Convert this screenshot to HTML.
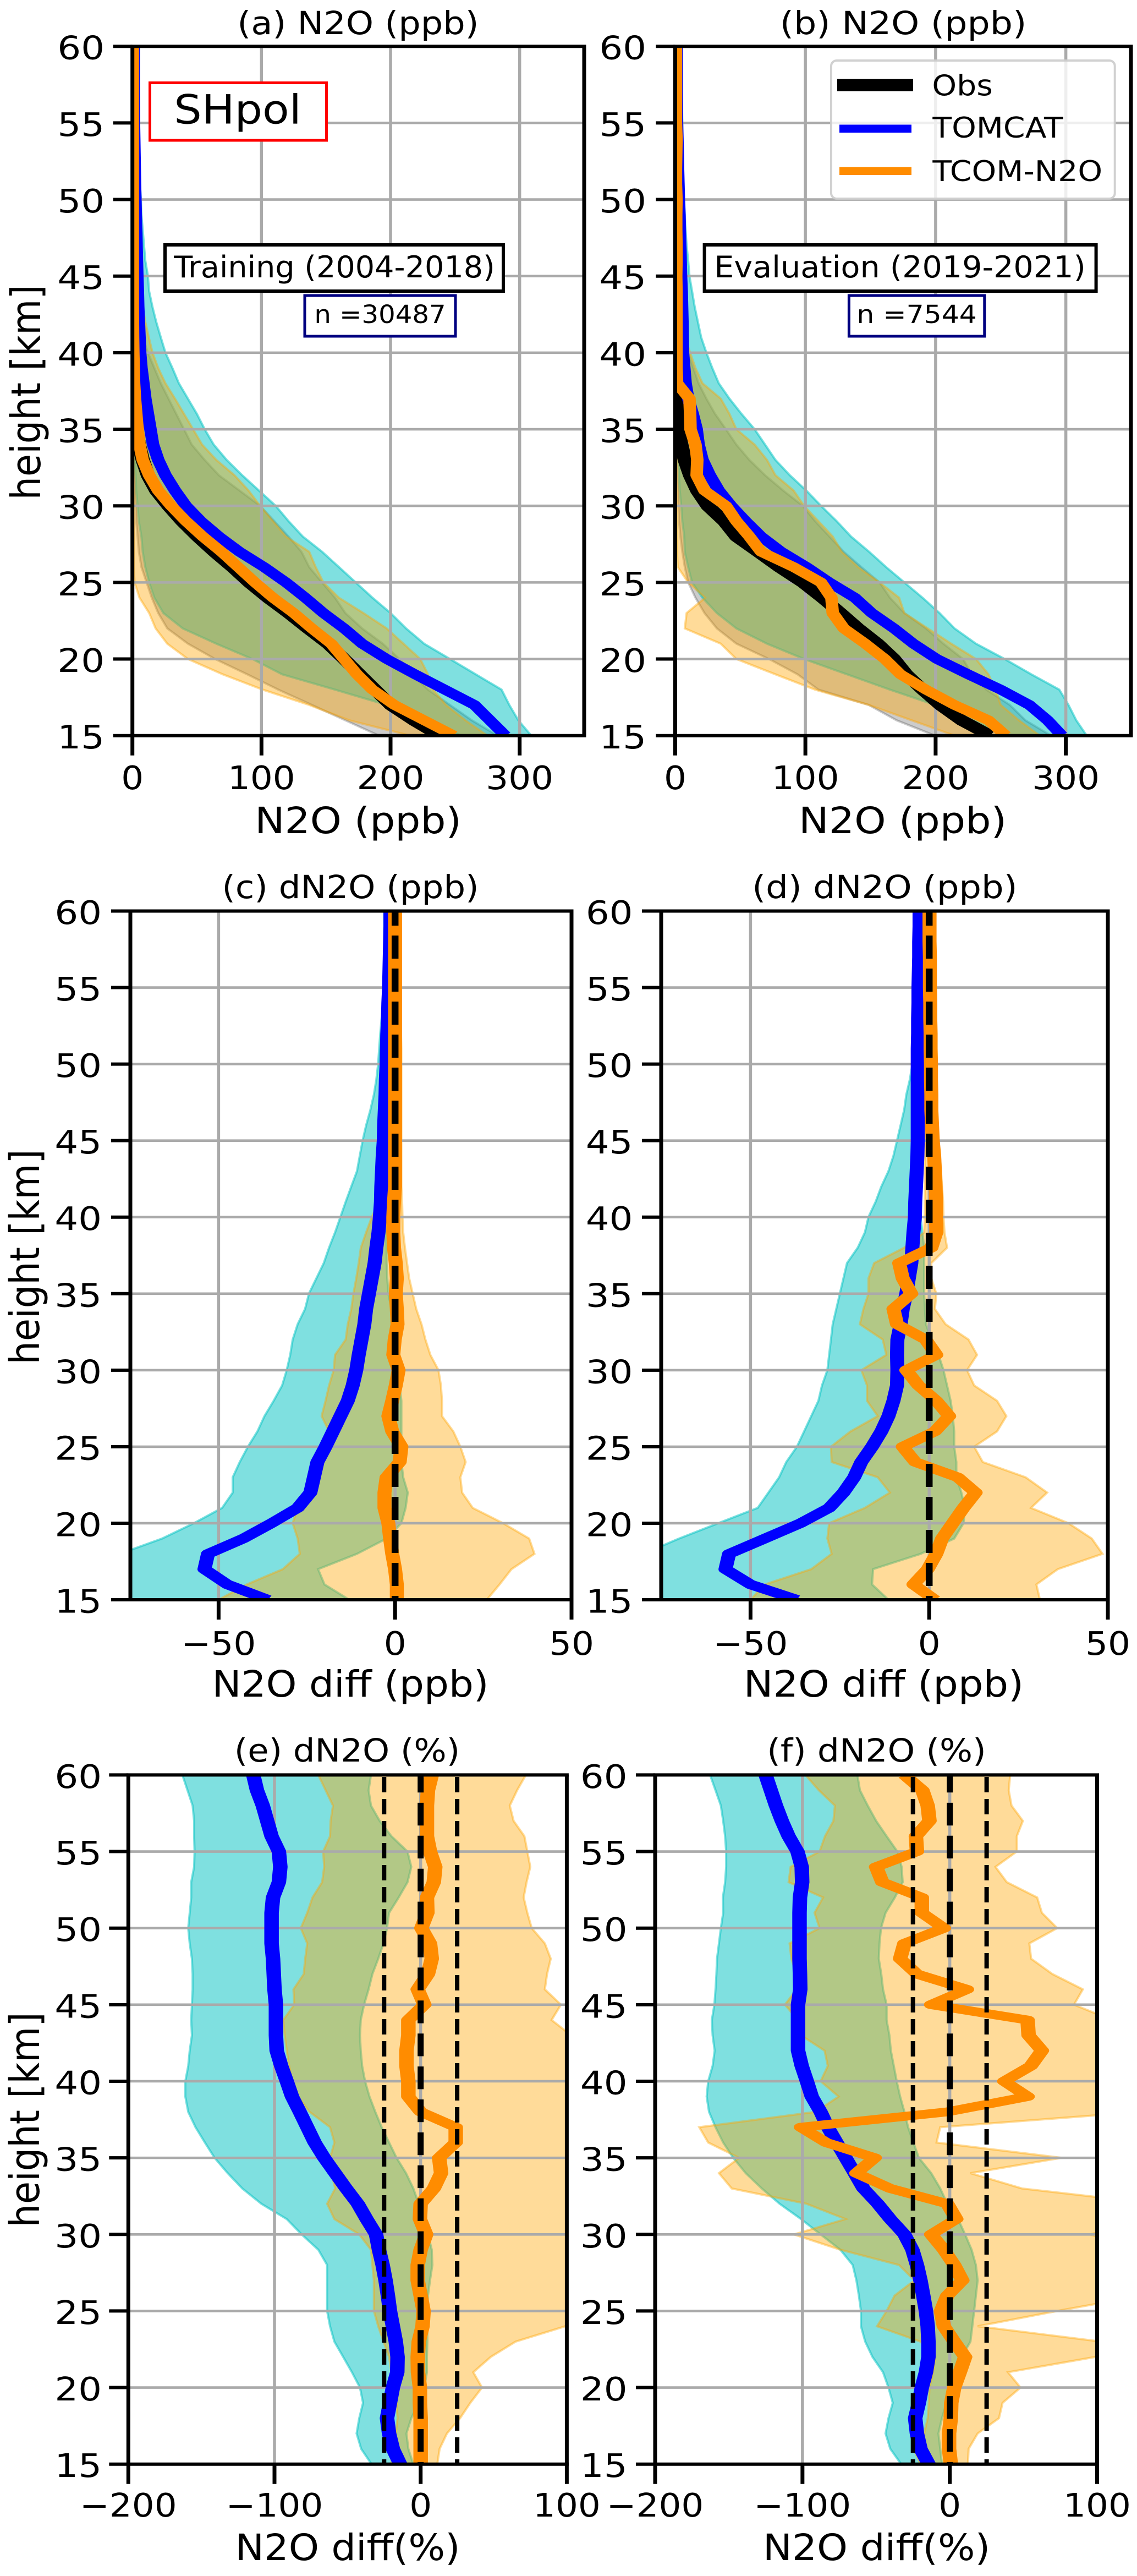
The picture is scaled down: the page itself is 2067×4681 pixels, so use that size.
<!DOCTYPE html>
<html lang="en">
<head>
<meta charset="utf-8">
<title>SHpol N2O profiles</title>
<style>
html,body{margin:0;padding:0;background:#fff;}
svg{display:block;}
text{font-family:"DejaVu Sans","Liberation Sans",sans-serif;fill:#000;}
</style>
</head>
<body>
<svg id="fig" xmlns="http://www.w3.org/2000/svg" width="2067" height="4681" viewBox="0 0 2067 4681">
<rect x="0" y="0" width="2067" height="4681" fill="#fff"/>
<g id="plots"></g>

<text font-size="58" text-anchor="middle" transform="translate(651,62) scale(1.1,1)">(a) N2O (ppb)</text>
<text font-size="58" text-anchor="middle" transform="translate(1642,62) scale(1.12,1)">(b) N2O (ppb)</text>
<text font-size="58" text-anchor="middle" transform="translate(637,1632) scale(1.08,1)">(c) dN2O (ppb)</text>
<text font-size="58" text-anchor="middle" transform="translate(1608.4,1632) scale(1.103,1)">(d) dN2O (ppb)</text>
<text font-size="58" text-anchor="middle" transform="translate(631,3201) scale(1.077,1)">(e) dN2O (%)</text>
<text font-size="58" text-anchor="middle" transform="translate(1593.5,3201) scale(1.09,1)">(f) dN2O (%)</text>

<text font-size="66" text-anchor="middle" transform="translate(651,1514) scale(1.1,1)">N2O (ppb)</text>
<text font-size="66" text-anchor="middle" transform="translate(1641,1514) scale(1.107,1)">N2O (ppb)</text>
<text font-size="66" text-anchor="middle" transform="translate(637,3083) scale(1.075,1)">N2O diff (ppb)</text>
<text font-size="66" text-anchor="middle" transform="translate(1606.4,3083) scale(1.088,1)">N2O diff (ppb)</text>
<text font-size="66" text-anchor="middle" transform="translate(632,4652) scale(1.065,1)">N2O diff(%)</text>
<text font-size="66" text-anchor="middle" transform="translate(1593.5,4652) scale(1.076,1)">N2O diff(%)</text>

<text font-size="67" text-anchor="middle" transform="translate(73,713) scale(1.1,1) rotate(-90)">height [km]</text>
<text font-size="67" text-anchor="middle" transform="translate(71,2284) scale(1.1,1) rotate(-90)">height [km]</text>
<text font-size="67" text-anchor="middle" transform="translate(71,3852) scale(1.1,1) rotate(-90)">height [km]</text>

<g>
<rect x="272.5" y="150.5" width="321" height="104.5" fill="#fff" stroke="#ff0000" stroke-width="5"/>
<text font-size="73" text-anchor="middle" transform="translate(432,224.5) scale(1.09,1)">SHpol</text>
</g>
<g>
<rect x="300" y="445" width="615" height="84" fill="#fff" stroke="#000" stroke-width="6"/>
<text font-size="54" text-anchor="middle" transform="translate(608,504) scale(1.03,1)">Training (2004-2018)</text>
</g>
<g>
<rect x="554" y="537" width="274" height="74" fill="#fff" stroke="#000080" stroke-width="5"/>
<text font-size="45" text-anchor="middle" transform="translate(691,587) scale(1.07,1)">n =30487</text>
</g>
<g>
<rect x="1280.6" y="445" width="712" height="84" fill="#fff" stroke="#000" stroke-width="6"/>
<text font-size="54" text-anchor="middle" transform="translate(1636,504) scale(1.058,1)">Evaluation (2019-2021)</text>
</g>
<g>
<rect x="1543.4" y="537" width="246.4" height="74" fill="#fff" stroke="#000080" stroke-width="5"/>
<text font-size="45" text-anchor="middle" transform="translate(1666.6,587) scale(1.12,1)">n =7544</text>
</g>

<g>
<rect x="1511" y="110" width="515.7" height="251" rx="10" ry="10" fill="#fff" fill-opacity="0.8" stroke="#cccccc" stroke-opacity="0.9" stroke-width="4"/>
<rect x="1522" y="143.6" width="138" height="22" fill="#000"/>
<rect x="1526" y="226.5" width="131" height="14.5" fill="#0000ff"/>
<rect x="1526" y="303.5" width="131" height="14.5" fill="#ff8c00"/>
<text font-size="52" transform="translate(1694.4,173.5) scale(1.093,1)">Obs</text>
<text font-size="52" transform="translate(1695.4,250) scale(1.093,1)">TOMCAT</text>
<text font-size="52" transform="translate(1695.4,329) scale(1.093,1)">TCOM-N2O</text>
</g>
</svg>

<script>
// Heights (km), one value per level
const heights = [15,16,17,18,19, 20,21,22,23,24, 25,26,27,28,29, 30,31,32,33,34, 35,36,37,38,39, 40,41,42,43,44, 45,46,47,48,49, 50,51,52,53,54, 55,56,57,58,59, 60];

// Panel (a) N2O training, ppb
const aObs = [238,218,200,188,176, 164,151.5,136,121,105, 90.5,77.5,63.5,50.5,38.5, 28,18.5,12,8,5, 3,2,1,null,null, null,null,null,null,null, null,null,null,null,null, null,null,null,null,null, null,null,null,null,null, null];
const aTomcat = [289,277,265,242,219, 197,178,164,148,134, 119,102,83,67,53, 41.5,33,25.6,20,16, 14,12,10,8.5,7, 6,5.5,5,4.5,4.2, 3.8,3.5,3.2,2.9,2.6, 2.3,2,1.8,1.6,1.4, 1.2,1.1,1,1,1, 1];
const aTcom = [249,226,203,186,174, 164,154,139,125,109, 95,82,69,54.5,41.5, 30,20,13,8,5.5, 4,3,2,1.3,1, 0.7,0.5,0.4,0.3,0.3, 0.3,0.3,0.3,0.3,0.3, 0.3,0.3,0.3,0.3,0.3, 0.3,0.3,0.3,0.3,0.3, 0.3];
const aObsLo = [191,165,139,113,89, 64,43,27,20,15, 11,7,5,4,3, 2.5,2,1.5,1,1, 0.5,0.5,0.4,0.3,0.3, 0.3,0.3,0.3,0.3,0.3, 0.3,0.3,0.3,0.3,0.3, 0.3,0.3,0.3,0.3,0.3, 0.3,0.3,0.3,0.3,0.3, 0.3];
const aObsHi = [283,263,246,229,217, 207,194,178,165,157, 147,137,131,121,110, 99,83,67,56,46, 40,34,28,22,17, 12,8,6,5,4, 3,2.5,2,1.8,1.5, 1.5,1.5,1.5,1.5,1.5, 1.5,1.5,1.5,1.5,1.5, 1.5];
const aTomLo = [255,225,197,157,116, 93,65,39,24,17, 13,10,8,7,5, 4,3,2.5,2,1.5, 1.2,1,1,0.8,0.8, 0.7,0.7,0.7,0.7,0.6, 0.6,0.6,0.6,0.6,0.6, 0.5,0.5,0.5,0.5,0.5, 0.5,0.5,0.5,0.5,0.5, 0.5];
const aTomHi = [309,299,292,286,266, 246,226,212,200,186, 173,160,147,132,121, 111,98,85,73,63, 56,50,43,36,31, 25.6,22,18.5,15.5,13, 12,10,9,8,7, 6.6,5.8,5.2,4.6,4.3, 4,3.8,3.6,3.4,3.2, 3];
const aTcomLo = [215,168,137,101,70, 43,27,18,13,5.5, 1.7,1,1,1,0.9, 0.8,0.8,0.7,0.7,0.7, 0.6,0.6,0.6,0.6,0.6, 0.5,0.5,0.5,0.5,0.5, 0.5,0.5,0.5,0.5,0.5, 0.5,0.5,0.5,0.5,0.5, 0.5,0.5,0.5,0.5,0.5, 0.5];
const aTcomHi = [275,258,243,233,229, 223,210,197,179,160, 148,142,137,119,109, 99,90,79,65,54, 47,40,33,25.6,20, 15.6,12.7,10,8,7, 6,5,4.5,4,3.8, 3.6,3.4,3.2,3,2.8, 2.7,2.6,2.5,2.5,2.5, 2.5];

// Panel (b) N2O evaluation, ppb
const bObs = [242,220,203.5,190,177.5, 168,155.5,140.5,127,113, 98,80,63.6,47,37.6, 25,17,11.5,7.4,4.7, 2,1.5,1,1,null, null,null,null,null,null, null,null,null,null,null, null,null,null,null,null, null,null,null,null,null, null];
const bTomcat = [297,286,272,250,225, 201,183,168,151,138, 118.5,101,81.5,66,54, 43,33.5,26.6,21,18, 16.5,13.5,10,8,7, 6,5.8,5.6,5.3,5, 4.5,4.2,3.9,3.6,3.3, 2.8,2.5,2.2,2,1.7, 1.4,1.3,1.2,1.2,1.2, 1.2];
const bTcom = [254,240.6,214.5,192.6,173, 161,146,129.5,121,120, 112,91,66,57,47, 39,22.5,16.5,17,15.6, 11.8,11.5,11,1.5,1, 1,1,1,1,1, 0.8,1,1,0.8,0.8, 1,0.6,0.6,0.8,1, 0.6,0.6,0.6,0.6,0.6, 0.6];
const bObsLo = [199.5,170,148.7,110,94, 72,47,32,22.5,15.6, 10,7.4,5.5,4,3, 2.5,2,1.5,1,1, 0.8,0.7,0.6,0.5,0.5, 0.4,0.4,0.4,0.4,0.4, 0.3,0.3,0.3,0.3,0.3, 0.3,0.3,0.3,0.3,0.3, 0.3,0.3,0.3,0.3,0.3, 0.3];
const bObsHi = [288.6,269,257,239,228, 221,206,192.6,176,165, 157,143,129.5,118.5,107.5, 98,83,69,57,47, 39,30.7,24,18,14, 10,7.4,6,4,3, 2.5,2,2,1.5,1.5, 1.5,1.5,1.5,1.5,1.5, 1.5,1.5,1.5,1.5,1.5, 1.5];
const bTomLo = [253,228,199.5,165,132, 99,70.5,47,32,21, 13,10,7.4,7,5.5, 4.7,3.5,3,2.5,2, 1.5,1.2,1,1,1, 0.8,0.8,0.8,0.8,0.8, 0.7,0.7,0.7,0.7,0.7, 0.6,0.6,0.6,0.6,0.6, 0.5,0.5,0.5,0.5,0.5, 0.5];
const bTomHi = [316,308,302,295,273.5, 253,231,214.5,203,190, 176,162,149,135,124, 112,100.7,88,77,69, 61,51,41.7,33.5,28.5, 24,20,17.5,15,13, 11,10,8.8,8,7.4, 6.9,6.4,6,5.8,5.6, 5.5,5.3,5,4.8,4.7, 4.7];
const bTcomLo = [214.5,181.6,148.7,107.5,77, 47,35,7.4,8.8,23, 10,2,1.4,1,1, 0.9,0.9,0.8,0.8,0.8, 0.7,0.7,0.7,0.6,0.6, 0.6,0.6,0.5,0.5,0.5, 0.5,0.5,0.5,0.5,0.5, 0.5,0.5,0.5,0.5,0.5, 0.5,0.5,0.5,0.5,0.5, 0.5];
const bTcomHi = [280,264,250,246,240.6, 231,212,194,176,172, 157,140.5,128,121,110, 99,91,77,70.5,61, 47,41.7,35,21,15.6, 11.5,7.4,6,5,4.5, 4,3.8,3.6,3.4,3.2, 3,3,3,3,3, 3,3,3,3,3, 3];

// Panel (c) difference training, ppb
const cTomcat = [-36,-47.5,-54,-53,-43, -35,-27.6,-24,-23,-22, -19.7,-17.6,-15.5,-13.4,-12, -11,-10.3,-9.5,-8.7,-8.2, -7.4,-6.6,-5.8,-5.3,-4.7, -4.3,-4,-3.9,-3.7,-3.5, -3.2,-3.1,-2.9,-2.7,-2.6, -2.4,-2.3,-2.2,-2,-1.9, -1.7,-1.6,-1.5,-1.4,-1.3, -1.3];
const cTcom = [0.5,0.5,0,-0.8,-1.4, -1.9,-3,-3,-2.4,1.3, 1.8,-0.8,-1.9,-0.8,0.2, 1,-0.5,-0.1,0.7,0.5, 0.2,0.5,0.2,-0.3,-0.5, -0.5,-0.3,0,0,0, 0,0,0,0,0, 0,0,0,0,0, 0,0,0,0,0, 0];
const cTomLo = [-95,-92,-88,-78,-66, -57,-49,-46,-46,-44, -41.7,-39,-37,-34.4,-32, -30.7,-29.7,-29,-27.6,-25.5, -24.4,-22.3,-20.2,-18.7,-17, -15.5,-14,-12.4,-10.8,-10, -9.2,-8.2,-7,-6,-5.3, -4.8,-4.5,-4.2,-3.8,-3.5, -3.2,-3.1,-3.1,-3.1,-3.1, -3.1];
const cTomHi = [-13,-20,-21.8,-10.8,-2.4, 1.8,3,3.6,2.3,1.8, 1.8,1.8,1.8,1.8,1.3, 0.7,0.2,-0.5,-0.8,-1, -1.9,-2.2,-2.4,-2.4,-2.5, -2.5,-2.5,-2.5,-2.4,-2.4, -2.3,-2.3,-2.3,-2.2,-2.2, -2.2,-2.2,-2.1,-2.1,-2.1, -2.1,-2,-2,-2,-2, -2];
const cTcomLo = [-50,-42,-31.8,-27,-27.6, -29,-27.6,-24.4,-22,-20.8, -19,-18.7,-20.8,-19.7,-18.7, -17.4,-17,-14,-13.4,-12.4, -11.8,-11,-10.3,-9.7,-8.2, -6.6,-4.5,-2.4,-1.9,-1.6, -1.5,-1.5,-1.5,-1.5,-1.5, -1.6,-1.6,-1.6,-1.6,-1.7, -1.7,-1.7,-1.8,-1.8,-1.8, -1.8];
const cTcomHi = [26,29.6,33,39.5,38, 30.6,22,19,18.5,20, 18.5,16.5,13.3,13.3,13, 12.3,10,8.6,7.5,6, 5,4,3.4,2.8,2.3, 2.1,2,1.8,1.8,1.8, 1.8,1.8,1.8,1.8,1.8, 1.8,1.8,1.7,1.7,1.7, 1.7,1.7,1.7,1.7,1.7, 1.7];

// Panel (d) difference evaluation, ppb
const dTomcat = [-37,-50,-57,-56,-46, -36,-28,-24,-21,-19, -16,-13.4,-11.4,-10,-9, -8.9,-9,-8.9,-8,-7.4, -6.4,-5.7,-5,-4.7,-4.4, -4,-3.9,-3.7,-3.5,-3.3, -3.2,-3.2,-3.2,-3.2,-3.2, -3.2,-3.2,-3.1,-3.1,-3, -3,-2.9,-2.8,-2.8,-2.7, -2.7];
const dTcom = [1.6,-4.4,-0.4,2,3.6, 6.6,9.6,13,8,-3.9, -7.4,1.6,5.6,2,-3, -6.4,2,-1,-9,-10, -5,-7.4,-8.4,0.6,2, 1.9,1.9,1.8,1.6,1.4, 1,0.8,0.6,0.6,0.5, 0.5,0.4,0.4,0.3,0.3, 0.2,0.2,0.2,0.1,0.1, 0.1];
const dTomLo = [-95,-92,-88,-80,-70, -59,-48,-45,-42,-40, -37,-35,-33,-31,-30, -28.5,-28,-27.5,-27,-26, -25,-24,-23,-20,-18, -17,-15,-13.4,-11.4,-10, -9,-8,-7,-6.4,-5.4, -4.7,-4.4,-4.2,-4,-3.9, -3.7,-3.6,-3.6,-3.6,-3.6, -3.6];
const dTomHi = [-11.4,-16,-15.7,-2.4,7, 9.6,10,9,7.6,7.6, 7,7,6.6,6,5, 4,2.6,0.6,-0.9,-1.2, -1.4,-1.4,-1.4,-1.4,-1.9, -2.4,-2.4,-2.4,-2.4,-2.4, -2.4,-2.4,-2.4,-2.4,-2.4, -2.4,-2.4,-2.4,-2.4,-2.4, -2.4,-2.4,-2.4,-2.4,-2.4, -2.4];
const dTcomLo = [-50,-46,-33,-27.3,-28.5, -28,-18,-11,-14.4,-27.3, -27.5,-22,-14.4,-17.4,-17.4, -19,-12,-13,-19.4,-18.4, -17,-17,-15.4,-7,-1.4, -1.2,-1.2,-1.2,-1.2,-1.2, -1.3,-1.3,-1.3,-1.3,-1.3, -1.4,-1.4,-1.4,-1.4,-1.4, -1.4,-1.4,-1.4,-1.4,-1.4, -1.4];
const dTcomHi = [31,30,36,48.5,45.5, 39,28.5,33,27,15, 12.6,19,21.6,19,12.6, 10.6,13.4,11,4.6,1.6, 2,0.6,0.6,5,4.3, 4,3.9,3.6,3.3,3, 2,1.8,1.8,1.8,1.8, 1.7,1.7,1.7,1.7,1.7, 1.6,1.6,1.6,1.6,1.6, 1.6];

// Panel (e) difference training, %
const eTomcat = [-14,-19,-21.6,-23,-21, -19,-16,-15.8,-17,-19, -21,-22.4,-24,-26,-28.5, -30.5,-37,-43,-51,-58.5, -66,-72.5,-77.6,-82.7,-88, -91.6,-95.4,-98.5,-99,-99, -99,-100,-100.5,-101,-102, -102,-102,-101,-97,-96, -97,-102,-105,-108,-112, -114.5];
const eTcom = [0,0,0,0,-0.5, -0.5,-1.8,-2,-1.3,1.3, 2,0,-2,-2,0, 3.8,-0.5,0,9,14, 12.7,24,24,0,-8.4, -8.4,-9.7,-9.7,-8.4,-8.4, 2.5,-2,5,7.6,6.4, 0.5,4.6,4.3,9,10, 6.4,4.3,4.3,4.3,5, 7.6];
const eTomLo = [-33.6,-40.7,-43.8,-42,-39.4, -41.5,-47,-53,-59,-62, -64,-64,-64,-64,-70, -81.4,-91.6,-109,-122,-132, -141,-147.6,-154,-159,-161, -161,-159,-158,-156.5,-157, -156.5,-156,-156,-156.5,-158, -159,-158,-157,-157,-155, -154.7,-155,-155,-156,-159.5, -163];
const eTomHi = [-5,-8.4,-9.7,-6.4,-1.3, 2.5,4.3,4.3,4.6,4.6, 4.6,5,6.4,8,7.6, 5,2.5,-1.3,-5,-10, -16.5,-21.6,-26.7,-31,-35, -38,-40,-41,-41.5,-41, -38.7,-35.6,-33,-29,-25.4, -23,-21.6,-15,-9,-6.4, -9,-20,-28,-34,-35.6, -34];
const eTcomLo = [-20,-20,-17,-15.8,-16.5, -19,-20,-21.6,-25.4,-29, -32,-32,-32,-33,-34, -42,-59,-64,-58.5,-61, -62,-59,-62,-76,-84, -88,-90,-91.6,-93,-94, -86.5,-87,-80,-79,-77.6, -82,-77.6,-74,-67.4,-66, -66.7,-62,-61.6,-60,-65, -70];
const eTcomHi = [11.4,13,18,27,34, 42,36,48,65,99, 105,118,125,130,125, 128,125,120,118,120, 122,125,120,120,122, 120,115,110,103,89.6, 96,85,86.5,89,85, 76,73,70.5,72.5,75, 73,71,63.6,61,66, 72];

// Panel (f) difference evaluation, %
const fTomcat = [-14.3,-19.9,-22.3,-23.5,-21, -19,-16.2,-14.5,-14.5,-15, -16.2,-18,-19.9,-22.3,-25.4, -30.8,-40.4,-48.9,-58.6,-64.6, -70.7,-76.8,-82.8,-87.7,-93.7, -97,-100.5,-103,-103,-103, -103,-101.5,-101.7,-102,-102, -102,-102,-101.7,-100.2,-100.5, -103.4,-109.4,-114,-118,-121.5, -125];
const fTcom = [0.7,-0.5,-0.5,0.7,1, 3,6.8,10.4,3,-4, -6,-1.7,8.5,3,-4, -12.6,4.4,-1.7,-40.4,-63.4, -51,-84,-101,-1.7,52.8, 37,55,62.5,53.5,52.8, -12.6,11.6,-22.3,-33.7,-30.8, -4,-19,-19,-45.8,-50, -22.3,-23,-13.8,-15,-18.6, -30.8];
const fTomLo = [-33,-40.4,-43.6,-41.6,-38.7, -41.6,-45.3,-52.5,-57.4,-60.3, -60.3,-61.7,-63.4,-65.9,-74.3, -87.7,-101,-115.5,-127.6,-138.5, -147,-153.8,-159,-163.4,-165, -164,-161,-159.6,-161,-161.5, -159.8,-159,-158.4,-158,-156.7, -155.4,-153.8,-154,-152.5,-151.8, -151.8,-152.5,-153.8,-155.4,-159, -162.7];
const fTomHi = [-5.3,-6.5,-7.7,-5.3,-2.2, 0.7,6.8,8,14,15.3, 16.5,17.7,18.9,17.7,14.8, 10.4,5.6,-1.7,-6.5,-12.6, -21,-24.7,-28.3,-30.8,-33.7, -36,-38,-40,-41,-42.9, -42.9,-45.3,-46.5,-48.2,-47.7, -46.7,-43.6,-37.3,-32,-32.7, -35.6,-42.9,-50,-55.7,-61, -62.7];
const fTcomLo = [-19.9,-24.7,-17.4,-15,-14.3, -13.8,-11.4,-10,-19.9,-49.4, -42.9,-37.5,-24,-34.4,-74.3, -105.8,-70.7,-97.3,-148,-156.7, -143,-164,-170,-91,-75.5, -87.7,-82.8,-85,-101,-103, -111.9,-104,-104,-107.5,-108.7, -88.4,-91.8,-86,-109.4,-108, -88.4,-84.7,-79,-78,-88.9, -98];
const fTcomHi = [12.3,12.8,18.9,33.4,35.8, 48,39.5,99,103,18.9, 73,130,140,140,130, 95,140,140,49,14, 75.8,-9,-6.5,130,120, 125,135,140,130,110, 84.3,90.3,69.7,55.2,54, 72.9,62.5,59.3,38.7,31, 45.5,45.5,49.6,41.9,40, 41];

// Tick labels
const yTicks = [15,20,25,30,35,40,45,50,55,60];
const xTicksConc = [0,100,200,300];
const xTicksDiff = [-50,0,50];
const xTicksPct = [-200,-100,0,100];

const NS = 'http://www.w3.org/2000/svg';
const plots = document.getElementById('plots');

const panels = [
  {id:'a', box:[240.7,1062,84.2,1336.7], xr:[0,350], xt:xTicksConc, yLabelX:190, xLabelY:1434, lineScale:1.3, lw:17.5, blackLw:20,
   obs:aObs, tom:aTomcat, tcom:aTcom, obsLo:aObsLo, obsHi:aObsHi, tomLo:aTomLo, tomHi:aTomHi, tcomLo:aTcomLo, tcomHi:aTcomHi, refs:[]},
  {id:'b', box:[1227.4,2056,84.2,1336.7], xr:[0,350], xt:xTicksConc, yLabelX:1175, xLabelY:1434, lineScale:1.3, lw:17.5, blackLw:20,
   obs:bObs, tom:bTomcat, tcom:bTcom, obsLo:bObsLo, obsHi:bObsHi, tomLo:bTomLo, tomHi:bTomHi, tcomLo:bTcomLo, tcomHi:bTcomHi, refs:[]},
  {id:'c', box:[237,1039,1655.5,2907], xr:[-75,50], xt:xTicksDiff, yLabelX:185, xLabelY:3007, lineScale:1.5, lw:17, blackLw:20,
   tom:cTomcat, tcom:cTcom, tomLo:cTomLo, tomHi:cTomHi, tcomLo:cTcomLo, tcomHi:cTcomHi, refs:[{v:0,w:12.5,d:'42 18',o:15.5}]},
  {id:'d', box:[1202,2014,1655.5,2907], xr:[-75,50], xt:xTicksDiff, yLabelX:1150.4, xLabelY:3007, lineScale:1.5, lw:17, blackLw:20,
   tom:dTomcat, tcom:dTcom, tomLo:dTomLo, tomHi:dTomHi, tcomLo:dTcomLo, tcomHi:dTcomHi, refs:[{v:0,w:12.5,d:'42 18',o:15.5}]},
  {id:'e', box:[233.3,1030.4,3225.4,4477.7], xr:[-200,100], xt:xTicksPct, yLabelX:185, xLabelY:4573, lineScale:1.65, lw:16, blackLw:20,
   tom:eTomcat, tcom:eTcom, tomLo:eTomLo, tomHi:eTomHi, tcomLo:eTcomLo, tcomHi:eTcomHi,
   refs:[{v:0,w:11,d:'41.3 18.6',o:9.4},{v:-25,w:8,d:'28 12',o:36.4},{v:25,w:8,d:'28 12',o:36.4}]},
  {id:'f', box:[1191,1994.5,3225.4,4477.7], xr:[-200,100], xt:xTicksPct, yLabelX:1140.5, xLabelY:4573, lineScale:1.65, lw:16, blackLw:20,
   tom:fTomcat, tcom:fTcom, tomLo:fTomLo, tomHi:fTomHi, tcomLo:fTcomLo, tcomHi:fTcomHi,
   refs:[{v:0,w:11,d:'41.3 18.6',o:9.4},{v:-25,w:8,d:'28 12',o:36.4},{v:25,w:8,d:'28 12',o:36.4}]}
];

function svgEl(tag, parent, attrs) {
  const el = document.createElementNS(NS, tag);
  for (const k in attrs) el.setAttribute(k, attrs[k]);
  parent.appendChild(el);
  return el;
}
function fmt(n) { return n < 0 ? '\u2212' + Math.abs(n) : String(n); }

function drawPanel(p) {
  const [x0, x1, y0, y1] = p.box;
  const xScale = v => x0 + (v - p.xr[0]) / (p.xr[1] - p.xr[0]) * (x1 - x0);
  const yScale = h => y1 - (h - 15) / 45 * (y1 - y0);

  const g = svgEl('g', plots, {});
  
  

  const clip = svgEl('clipPath', g, {id: 'clip-' + p.id});
  svgEl('rect', clip, {x: x0, y: y0, width: x1 - x0, height: y1 - y0});

  const area = svgEl('g', g, {'clip-path': 'url(#clip-' + p.id + ')'});
  
  

  function band(lo, hi, color, op, name) {
    let d = '';
    heights.forEach((h, i) => { d += (i ? 'L' : 'M') + xScale(hi[i]).toFixed(1) + ' ' + yScale(h).toFixed(1); });
    for (let i = heights.length - 1; i >= 0; i--) { d += 'L' + xScale(lo[i]).toFixed(1) + ' ' + yScale(heights[i]).toFixed(1); }
    const el = svgEl('path', area, {d: d + 'Z', fill: color, 'fill-opacity': op, stroke: color, 'stroke-opacity': op, 'stroke-width': 4});
    
    
  }
  if (p.obsLo) band(p.obsLo, p.obsHi, '#000000', 0.2, 'obs-range-' + p.id);
  band(p.tomLo, p.tomHi, 'rgb(0,194,194)', 0.5, 'tomcat-range-' + p.id);
  band(p.tcomLo, p.tcomHi, 'rgb(255,165,0)', 0.4, 'tcom-range-' + p.id);

  p.xt.forEach(t => {
    const el = svgEl('line', area, {x1: xScale(t), x2: xScale(t), y1: y0, y2: y1, stroke: '#aaaaaa', 'stroke-width': 5.5});
    
    
  });
  yTicks.forEach(t => {
    const el = svgEl('line', area, {x1: x0, x2: x1, y1: yScale(t), y2: yScale(t), stroke: '#aaaaaa', 'stroke-width': 4.6});
    
    
  });

  const s = p.lineScale;
  const stretched = svgEl('g', area, {transform: 'translate(' + x0 + ',0) scale(' + s + ',1)'});
  function line(values, color, width, name) {
    let d = '', started = false;
    values.forEach((v, i) => {
      if (v === null) return;
      d += (started ? 'L' : 'M') + ((xScale(v) - x0) / s).toFixed(2) + ' ' + yScale(heights[i]).toFixed(1);
      started = true;
    });
    const el = svgEl('path', stretched, {d: d, fill: 'none', stroke: color, 'stroke-width': width, 'stroke-linejoin': 'round', 'stroke-linecap': 'butt'});
    
    
  }
  if (p.obs) line(p.obs, '#000000', p.blackLw, 'obs-line-' + p.id);
  line(p.tom, '#0000ff', p.lw, 'tomcat-line-' + p.id);
  line(p.tcom, '#ff8c00', p.lw, 'tcom-line-' + p.id);

  p.refs.forEach(r => {
    const el = svgEl('line', area, {x1: xScale(r.v), x2: xScale(r.v), y1: y0, y2: y1, stroke: '#000', 'stroke-width': r.w, 'stroke-dasharray': r.d, 'stroke-dashoffset': r.o});
    
    
  });

  // spines
  [[x0, y0, x0, y1, 7], [x1, y0, x1, y1, 7], [x0 - 3.5, y0, x1 + 3.5, y0, 6], [x0 - 3.5, y1, x1 + 3.5, y1, 6]].forEach(c => {
    const el = svgEl('line', g, {x1: c[0], y1: c[1], x2: c[2], y2: c[3], stroke: '#000', 'stroke-width': c[4]});
    
    
  });

  // ticks and labels
  yTicks.forEach(t => {
    const y = yScale(t);
    const tick = svgEl('line', g, {x1: x0 - 35, x2: x0, y1: y, y2: y, stroke: '#000', 'stroke-width': 6});
    
    
    const lab = svgEl('text', g, {'font-size': 59, 'text-anchor': 'end', transform: 'translate(' + p.yLabelX + ',' + (y + 23.5) + ') scale(1.14,1)'});
    
    
    lab.textContent = fmt(t);
  });
  p.xt.forEach(t => {
    const x = xScale(t);
    const tick = svgEl('line', g, {x1: x, x2: x, y1: y1, y2: y1 + 36, stroke: '#000', 'stroke-width': 7});
    
    
    const lab = svgEl('text', g, {'font-size': 59, 'text-anchor': 'middle', transform: 'translate(' + x + ',' + p.xLabelY + ') scale(1.09,1)'});
    
    
    lab.textContent = fmt(t);
  });
}
panels.forEach(drawPanel);
</script>
</body>
</html>
